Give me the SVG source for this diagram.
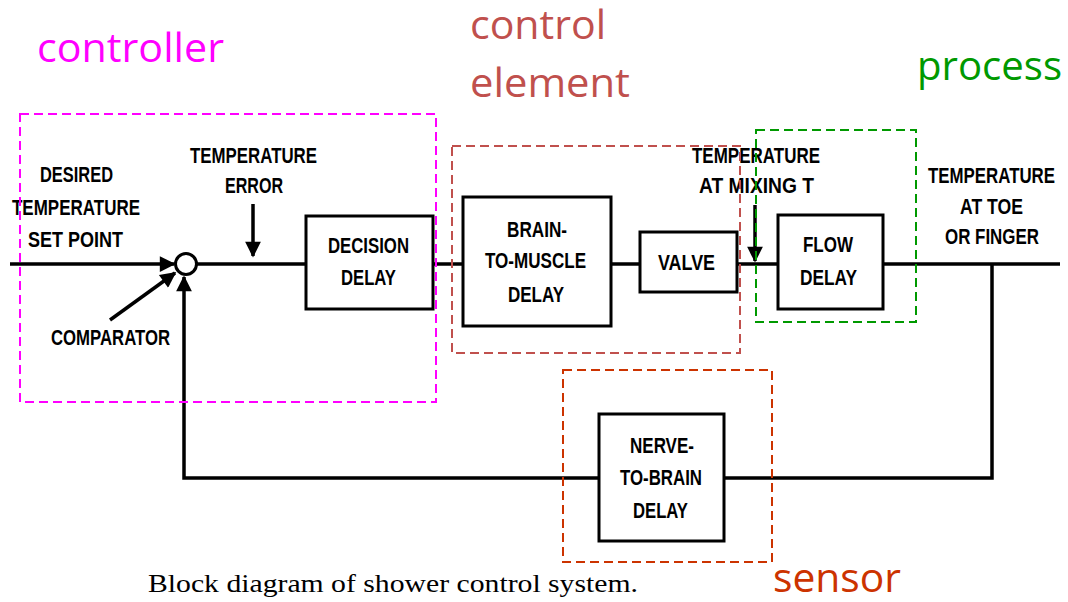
<svg xmlns="http://www.w3.org/2000/svg" width="1068" height="602" viewBox="0 0 1068 602">
<style>
.blk{fill:#fff;stroke:#000;stroke-width:3}
.ln{fill:none;stroke:#000;stroke-width:3.5}
.lb{font-family:"Liberation Sans",Arial,sans-serif;font-weight:bold;font-size:22px;fill:#000}
.grp{font-family:"Open Sans","Noto Sans",sans-serif;font-size:40px}
.dash{fill:none;stroke-width:2;stroke-dasharray:9 5}
</style>
<defs>
<marker id="ah" viewBox="0 0 10 10" refX="9" refY="5" markerWidth="5.5" markerHeight="4.5" orient="auto" markerUnits="strokeWidth">
<path d="M0,0 L10,5 L0,10 z" fill="#000"/>
</marker>
</defs>
<rect width="1068" height="602" fill="#fff"/>

<g id="connectors">
<line class="ln" x1="10" y1="264" x2="174" y2="264" marker-end="url(#ah)"/>
<line class="ln" x1="197" y1="264" x2="306" y2="264"/>
<line class="ln" x1="432" y1="264" x2="463" y2="264"/>
<line class="ln" x1="610" y1="264" x2="640" y2="264"/>
<line class="ln" x1="736" y1="264" x2="778" y2="264"/>
<line class="ln" x1="882" y1="264" x2="1060" y2="264"/>
<polyline class="ln" points="992,264 992,478 724,478"/>
<polyline class="ln" points="599,478 184,478 184,277" marker-end="url(#ah)"/>
<line class="ln" x1="110" y1="320" x2="175" y2="273" marker-end="url(#ah)"/>
<line class="ln" x1="253" y1="204" x2="253" y2="256" marker-end="url(#ah)"/>
<line class="ln" x1="755" y1="205" x2="755" y2="261" marker-end="url(#ah)"/>
</g>

<g id="comparator">
<circle cx="186" cy="264" r="10.5" fill="#fff" stroke="#000" stroke-width="3"/>
</g>

<g id="labels-left">
<text class="lb" x="40" y="182" textLength="73" lengthAdjust="spacingAndGlyphs">DESIRED</text>
<text class="lb" x="12" y="215" textLength="128" lengthAdjust="spacingAndGlyphs">TEMPERATURE</text>
<text class="lb" x="28" y="247" textLength="95" lengthAdjust="spacingAndGlyphs">SET POINT</text>
<text class="lb" x="190" y="163" textLength="127" lengthAdjust="spacingAndGlyphs">TEMPERATURE</text>
<text class="lb" x="225" y="193" textLength="58" lengthAdjust="spacingAndGlyphs">ERROR</text>
<text class="lb" x="51" y="345" textLength="119" lengthAdjust="spacingAndGlyphs">COMPARATOR</text>
</g>

<g id="decision-delay">
<rect class="blk" x="306" y="216" width="127" height="93"/>
<text class="lb" x="328" y="253" textLength="81" lengthAdjust="spacingAndGlyphs">DECISION</text>
<text class="lb" x="341" y="285" textLength="55" lengthAdjust="spacingAndGlyphs">DELAY</text>
</g>

<g id="brain-to-muscle">
<rect class="blk" x="463" y="197" width="148" height="129"/>
<text class="lb" x="507" y="237" textLength="60" lengthAdjust="spacingAndGlyphs">BRAIN-</text>
<text class="lb" x="485" y="268" textLength="101" lengthAdjust="spacingAndGlyphs">TO-MUSCLE</text>
<text class="lb" x="508" y="302" textLength="56" lengthAdjust="spacingAndGlyphs">DELAY</text>
</g>

<g id="valve">
<rect class="blk" x="640" y="232" width="97" height="60"/>
<text class="lb" x="658" y="270" textLength="57" lengthAdjust="spacingAndGlyphs">VALVE</text>
</g>

<g id="mixing-label">
<text class="lb" x="692" y="163" textLength="128" lengthAdjust="spacingAndGlyphs">TEMPERATURE</text>
<text class="lb" x="699" y="193" textLength="115" lengthAdjust="spacingAndGlyphs">AT MIXING T</text>
</g>

<g id="flow-delay">
<rect class="blk" x="778" y="215" width="105" height="94"/>
<text class="lb" x="803" y="252" textLength="50" lengthAdjust="spacingAndGlyphs">FLOW</text>
<text class="lb" x="800" y="285" textLength="57" lengthAdjust="spacingAndGlyphs">DELAY</text>
</g>

<g id="toe-label">
<text class="lb" x="928" y="183" textLength="127" lengthAdjust="spacingAndGlyphs">TEMPERATURE</text>
<text class="lb" x="960" y="214" textLength="63" lengthAdjust="spacingAndGlyphs">AT TOE</text>
<text class="lb" x="945" y="244" textLength="94" lengthAdjust="spacingAndGlyphs">OR FINGER</text>
</g>

<g id="nerve-to-brain">
<rect class="blk" x="599" y="414" width="125" height="127"/>
<text class="lb" x="630" y="453" textLength="64" lengthAdjust="spacingAndGlyphs">NERVE-</text>
<text class="lb" x="620" y="485" textLength="82" lengthAdjust="spacingAndGlyphs">TO-BRAIN</text>
<text class="lb" x="633" y="518" textLength="55" lengthAdjust="spacingAndGlyphs">DELAY</text>
</g>

<g id="controller">
<rect class="dash" x="20" y="114" width="416" height="288" stroke="#ff00ff"/>
<text class="grp" x="37" y="62" fill="#ff00ff" textLength="187" lengthAdjust="spacingAndGlyphs">controller</text>
</g>

<g id="control-element">
<rect class="dash" x="452" y="146" width="288" height="207" stroke="#c0504d"/>
<text class="grp" x="470" y="39" fill="#c0504d" textLength="136" lengthAdjust="spacingAndGlyphs">control</text>
<text class="grp" x="470" y="97" fill="#c0504d" textLength="160" lengthAdjust="spacingAndGlyphs">element</text>
</g>

<g id="process">
<rect class="dash" x="756" y="130" width="160" height="192" stroke="#009900"/>
<text class="grp" x="917" y="80" fill="#009900" textLength="145" lengthAdjust="spacingAndGlyphs">process</text>
</g>

<g id="sensor">
<rect class="dash" x="563" y="370" width="209" height="192" stroke="#cc3300"/>
<text class="grp" x="773" y="592" fill="#cc3300" textLength="128" lengthAdjust="spacingAndGlyphs">sensor</text>
</g>

<text x="148" y="592" font-family="Liberation Serif,'Times New Roman',serif" font-size="25" fill="#000" textLength="490" lengthAdjust="spacingAndGlyphs">Block diagram of shower control system.</text>
</svg>
